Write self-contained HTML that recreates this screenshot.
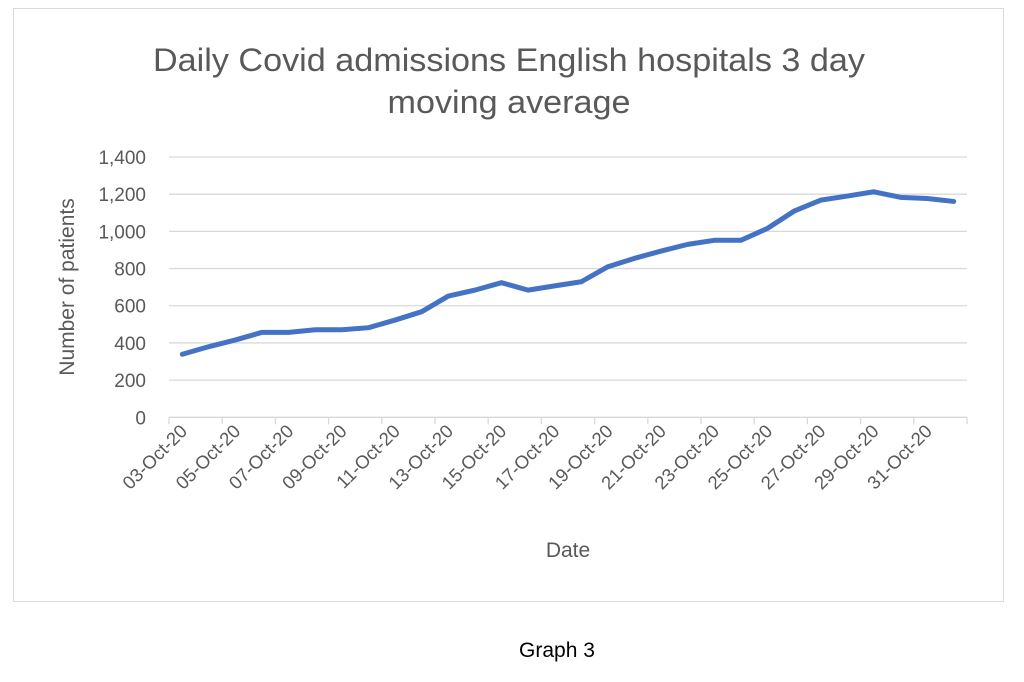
<!DOCTYPE html>
<html><head><meta charset="utf-8"><style>
body{margin:0;background:#fff;width:1024px;height:677px;overflow:hidden;font-family:"Liberation Sans",sans-serif}
</style></head><body>
<svg width="1024" height="677">
<rect x="13.5" y="8.5" width="990" height="593" fill="#fff" stroke="#d9d9d9"/>
<text x="509" y="71" text-anchor="middle" font-size="32" textLength="712" lengthAdjust="spacingAndGlyphs" fill="#595959">Daily Covid admissions English hospitals 3 day</text>
<text x="509" y="113" text-anchor="middle" font-size="32" textLength="243" lengthAdjust="spacingAndGlyphs" fill="#595959">moving average</text>
<text transform="translate(74,287) rotate(-90)" text-anchor="middle" font-size="21" fill="#595959">Number of patients</text>
<text x="568" y="557" text-anchor="middle" font-size="21" fill="#595959">Date</text>
<g id="grid"></g><g id="yt"></g><g id="xt"></g><g id="ln"></g>
<text x="557" y="657" text-anchor="middle" font-size="21" fill="#000">Graph 3</text>
</svg>
<script>
const categories=["03-Oct-20","04-Oct-20","05-Oct-20","06-Oct-20","07-Oct-20","08-Oct-20","09-Oct-20","10-Oct-20","11-Oct-20","12-Oct-20","13-Oct-20","14-Oct-20","15-Oct-20","16-Oct-20","17-Oct-20","18-Oct-20","19-Oct-20","20-Oct-20","21-Oct-20","22-Oct-20","23-Oct-20","24-Oct-20","25-Oct-20","26-Oct-20","27-Oct-20","28-Oct-20","29-Oct-20","30-Oct-20","31-Oct-20","01-Nov-20"];
const values=[339,380,416,457,457,471,471,482,523,568,652,684,724,684,707,729,810,855,894,930,952,952,1016,1109,1168,1190,1213,1183,1177,1161];
const yTicks=[0,200,400,600,800,1000,1200,1400];
const yTickLabels=["0","200","400","600","800","1,000","1,200","1,400"];
const NS="http://www.w3.org/2000/svg";
const X0=169,X1=967,Y0=417.3,Y1=157,YMAX=1400;
const bw=(X1-X0)/categories.length;
function x(i){return X0+bw*(i+0.5);}
function y(v){return Y0-(v/YMAX)*(Y0-Y1);}
function mk(t,a,p){const e=document.createElementNS(NS,t);for(const k in a)e.setAttribute(k,a[k]);p.appendChild(e);return e;}
const g=document.getElementById('grid'),yt=document.getElementById('yt'),xt=document.getElementById('xt'),ln=document.getElementById('ln');
yTicks.forEach((v,i)=>{
 if(v>0){const l=mk('line',{x1:X0,x2:X1,y1:y(v),y2:y(v),stroke:'#d9d9d9','stroke-width':1.3},g);
 
 }
 const t=mk('text',{x:146,y:y(v)+7,'text-anchor':'end','font-size':19,fill:'#595959'},yt);
 t.textContent=yTickLabels[i];
 
 
});
const ax=mk('line',{x1:X0,x2:X1,y1:Y0,y2:Y0,stroke:'#d9d9d9','stroke-width':1.3},g);


for(let i=0;i<=categories.length;i+=2){
 const tk=mk('line',{x1:X0+bw*i,x2:X0+bw*i,y1:Y0,y2:Y0+7,stroke:'#d9d9d9','stroke-width':1.3},g);
 
 
}
categories.forEach((c,i)=>{
 if(i%2)return;
 const t=mk('text',{transform:`translate(${x(i)+6},${Y0+15}) rotate(-45)`,'text-anchor':'end','font-size':18.5,fill:'#595959'},xt);
 t.textContent=c;
 
 
});
const p=mk('polyline',{points:values.map((v,i)=>x(i)+','+y(v)).join(' '),fill:'none',stroke:'#4472c4','stroke-width':5,'stroke-linejoin':'round','stroke-linecap':'round'},ln);


</script>
</body></html>
